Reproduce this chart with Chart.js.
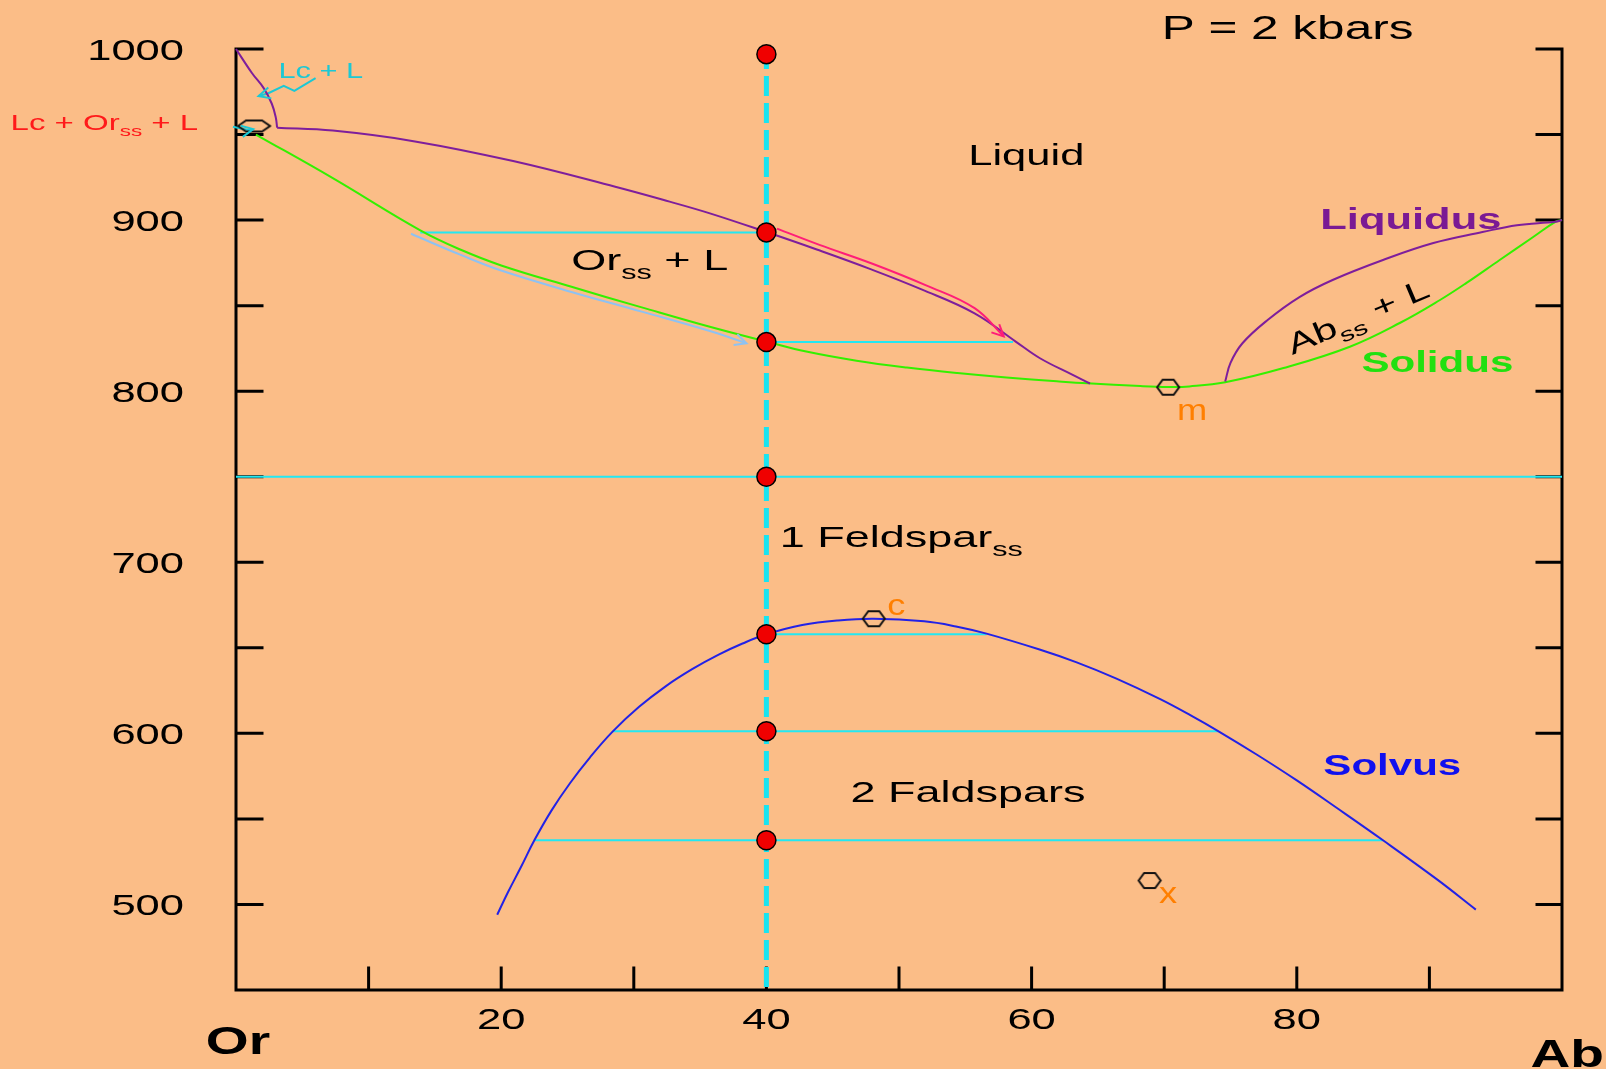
<!DOCTYPE html>
<html>
<head>
<meta charset="utf-8">
<script src="https://cdn.jsdelivr.net/npm/chart.js@4.4.1/dist/chart.umd.min.js"></script>
<style>
  html, body { margin: 0; padding: 0; background: #FBBD87; }
  #wrap { width: 1606px; height: 1069px; }
</style>
</head>
<body>
<div id="wrap"><canvas id="diagrama" width="1606" height="1069"></canvas></div>
<script>

// eixos
const ticksX = [10, 20, 30, 40, 50, 60, 70, 80, 90];
const rotulosX = [20, 40, 60, 80];
const ticksY = [1000, 950, 900, 850, 800, 750, 700, 650, 600, 550, 500];
const rotulosY = [1000, 900, 800, 700, 600, 500];

// curvas
const liquidusLc = [[0, 1000], [1.2, 986], [2.1, 977], [2.7, 968], [3.0, 960], [3.1, 954]];
const liquidusOr = [[3.1, 954], [7.3, 952.3], [13.5, 946], [20.9, 934.5], [28.6, 919.5], [32.7, 910.8], [35.8, 903.8], [40, 893],
  [43.8, 882.8], [47.8, 871.5], [51.7, 859.5], [55.7, 845.5], [58.8, 829], [60.6, 819.4], [63.1, 809.5], [64.4, 804.5]];
const liquidusAb = [[74.6, 805.6], [75.0, 816.5], [75.9, 828], [77.8, 841.6], [80.2, 855], [82.7, 865], [86.5, 876.7],
  [90.3, 886.6], [94, 893], [96.6, 897], [99.5, 899], [100, 900]];
const solidus = [[1.5, 950], [7.3, 924.5], [13.9, 894], [17, 882.5], [20, 873.5], [25.3, 861], [30.6, 849], [35.8, 837.5],
  [40, 829], [43.1, 823], [46.8, 817.8], [50.6, 813.8], [54.4, 810.6], [58.1, 808], [61.9, 805.8], [64.2, 804.6],
  [68.2, 803], [70.3, 802.5], [71.9, 802.8], [74.6, 805.2], [79, 813.5], [84, 826], [87.8, 840], [90.8, 853.3],
  [92.8, 863.3], [95.3, 876.7], [97.8, 890], [99.5, 899], [100, 900]];
const solvus = [[19.7, 494], [20.5, 507], [21.5, 522], [22.5, 537.5], [23.8, 555], [25.2, 571], [26.7, 586], [28.4, 601],
  [30.4, 615.5], [32.4, 627.5], [34.4, 637.5], [36.4, 646], [38.2, 652.5], [40, 657.9], [42.7, 663.3], [45.4, 666],
  [48.1, 667], [51.9, 665.5], [54.3, 662.5], [56.6, 658.3], [60.6, 649], [63.4, 641.5], [66.4, 632], [69.7, 620],
  [72, 610.5], [74.1, 601.2], [77, 587.5], [80, 572.5], [83, 556.5], [86.5, 537.5], [90.6, 514.5], [93.5, 497]];

// setas
const setaRosa = [[40.8, 895], [44, 885.5], [48, 874.5], [52, 862], [55.7, 848.5], [57.9, 832]];
const setaAzul = [[13.2, 892], [17, 879.5], [20, 870.5], [25.3, 858], [30.6, 846.5], [35.8, 835], [38.5, 828]];
const setaLcL = [[6.0, 983], [4.4, 975.5], [3.6, 978.5], [2.4, 974], [1.7, 972.5]];
const setaLcOrL = [[-3.35, 958.5], [-1.73, 957.5], [-1.36, 953.8], [-0.23, 954.6], [0.9, 952.6], [1.3, 953.2]];

// linhas de amarração (isotermas)
const amarraT = [892.8, 828.7, 750, 657.9, 601.2, 537.5];
const amarraDe = [13.9, 40, 0, 40, 28.4, 22.5];
const amarraAte = [40, 58.6, 100, 56.6, 74.1, 86.5];

// composição global e pontos de resfriamento
const isopleta = 40;
const pontosT = [997, 892.8, 828.7, 750, 657.9, 601.2, 537.5];

// pontos especiais: m (mínimo), c (crítico), x
const pontoM = [70.3, 802.3];
const pontoC = [48.1, 667];
const pontoX = [68.9, 514];
const pontoPeritetico = [1.36, 955];

const FONTE = '"Liberation Sans", Arial, sans-serif';

function pts(arr) { return arr.map(p => ({ x: p[0], y: p[1] })); }

function linha(dados, cor, larg, extra) {
  return Object.assign({
    type: 'line', data: pts(dados), borderColor: cor, borderWidth: larg,
    pointRadius: 0, fill: false, tension: 0, clip: false, order: 2
  }, extra || {});
}

function hexagono(w, h) {
  const c = document.createElement('canvas');
  c.width = w + 4; c.height = h + 4;
  const g = c.getContext('2d');
  const cx = c.width / 2, cy = c.height / 2;
  g.strokeStyle = '#111'; g.lineWidth = 2;
  g.beginPath();
  g.moveTo(cx - w / 2, cy);
  g.lineTo(cx - w / 4, cy - h / 2);
  g.lineTo(cx + w / 4, cy - h / 2);
  g.lineTo(cx + w / 2, cy);
  g.lineTo(cx + w / 4, cy + h / 2);
  g.lineTo(cx - w / 4, cy + h / 2);
  g.closePath();
  g.stroke();
  return c;
}

// montagem dos datasets
let datasets = [];

datasets.push({
  type: 'scatter', data: pontosT.map(t => ({ x: isopleta, y: t })),
  pointRadius: 9.5, backgroundColor: '#F00000', borderColor: '#000', borderWidth: 1.5, clip: false, order: 0
});
datasets.push({
  type: 'scatter', data: pts([pontoM, pontoC, pontoX]),
  pointStyle: hexagono(22, 15), pointRadius: 10, clip: false, order: 1
});
datasets.push({
  type: 'scatter', data: pts([pontoPeritetico]),
  pointStyle: hexagono(32, 11), pointRadius: 10, clip: false, order: 1
});

const suave = { tension: 0.4 };
datasets.push(linha(liquidusLc, '#7E1E9C', 2, suave));
datasets.push(linha(liquidusOr, '#7E1E9C', 2, suave));
datasets.push(linha(liquidusAb, '#7E1E9C', 2, suave));
datasets.push(linha(solidus, '#33F000', 2, suave));
datasets.push(linha(solvus, '#2222E6', 2, suave));
datasets.push(linha(setaAzul, '#8EC2F2', 2, { seta: '#8EC2F2', tension: 0.4 }));
datasets.push(linha(setaRosa, '#FF1E78', 2, { seta: '#FF1E78', order: 1, tension: 0.4 }));
datasets.push(linha(setaLcL, '#1CC8D4', 2, { seta: '#1CC8D4' }));
datasets.push(linha(setaLcOrL, '#1CC8D4', 2, { seta: '#1CC8D4' }));

datasets.push(linha([[isopleta, 1000], [isopleta, 450]], '#18E4F0', 5, { borderDash: [20, 7], order: 3 }));

amarraT.forEach((t, i) => {
  datasets.push(linha([[amarraDe[i], t], [amarraAte[i], t]], '#22E8F2', 2, { order: 4 }));
});

// textos (segmentos: [texto, subscrito?])
const textos = [
  { seg: [['P = 2 kbars']], x: 79.3, y: 1012.5, size: 33, sx: 1.5 },
  { seg: [['Liquid']], x: 59.6, y: 938.6, size: 30 },
  { seg: [['Or'], ['ss', 1], [' + L']], x: 31.2, y: 877.3, size: 30, sx: 1.5 },
  { seg: [['1 Feldspar'], ['ss', 1]], x: 41.0, y: 715.4, size: 30, sx: 1.5, align: 'left' },
  { seg: [['2 Faldspars']], x: 55.2, y: 566.3, size: 30, sx: 1.5 },
  { seg: [['Ab'], ['ss', 1], [' + L']], x: 84.6, y: 844, size: 29, rot: -23 },
  { seg: [['Liquidus']], x: 88.6, y: 901.2, size: 30, bold: true, cor: '#7A1A94' },
  { seg: [['Solidus']], x: 90.6, y: 817.6, size: 29, bold: true, cor: '#22E010' },
  { seg: [['Solvus']], x: 87.2, y: 581.5, size: 29, bold: true, cor: '#1010EE' },
  { seg: [['m']], x: 72.1, y: 789, size: 29, cor: '#FF7F00', sx: 1.25 },
  { seg: [['c']], x: 49.8, y: 675, size: 29, cor: '#FF7F00', sx: 1.25 },
  { seg: [['x']], x: 70.3, y: 507, size: 29, cor: '#FF7F00', sx: 1.25 },
  { seg: [['Lc + L']], x: 6.4, y: 987.7, size: 22, cor: '#1CC8D4', sx: 1.4 },
  { seg: [['Lc + Or'], ['ss', 1], [' + L']], x: -17.0, y: 957.5, size: 22, cor: '#FF1A1A', sx: 1.5, align: 'left' },
  { seg: [['Or']], x: 0.15, y: 420.5, size: 38, bold: true, sx: 1.45 },
  { seg: [['Ab']], x: 100.4, y: 413, size: 38, bold: true, sx: 1.45 }
];

function escreve(g, t, px, py) {
  const size = t.size, sx = t.sx || 1.45;
  const fonte = s => (t.bold ? 'bold ' : '') + s + 'px ' + FONTE;
  let larg = 0;
  t.seg.forEach(s => { g.font = fonte(s[1] ? size * 0.68 : size); larg += g.measureText(s[0]).width; });
  g.save();
  g.translate(px, py);
  if (t.rot) g.rotate(t.rot * Math.PI / 180);
  g.scale(sx, 1);
  g.fillStyle = t.cor || '#000';
  g.textBaseline = 'alphabetic';
  let x = t.align === 'left' ? 0 : -larg / 2;
  const base = size * 0.36;
  t.seg.forEach(s => {
    g.font = fonte(s[1] ? size * 0.68 : size);
    g.fillText(s[0], x, base + (s[1] ? size * 0.3 : 0));
    x += g.measureText(s[0]).width;
  });
  g.restore();
}

function pontaSeta(g, a, b, cor) {
  const ang = Math.atan2(b.y - a.y, b.x - a.x), L = 13;
  g.save();
  g.strokeStyle = cor; g.lineWidth = 2;
  g.beginPath();
  g.moveTo(b.x - L * Math.cos(ang - 0.45), b.y - L * Math.sin(ang - 0.45));
  g.lineTo(b.x, b.y);
  g.lineTo(b.x - L * Math.cos(ang + 0.45), b.y - L * Math.sin(ang + 0.45));
  g.stroke();
  g.restore();
}

const moldura = {
  id: 'moldura',
  beforeDraw(chart) {
    const g = chart.ctx;
    g.save();
    g.fillStyle = '#FBBD87';
    g.fillRect(0, 0, chart.width, chart.height);
    g.restore();
  },
  beforeDatasetsDraw(chart) {
    const g = chart.ctx, sx = chart.scales.x, sy = chart.scales.y;
    const x0 = sx.getPixelForValue(0), x1 = sx.getPixelForValue(100);
    const yTop = sy.getPixelForValue(1000), yBot = sy.getPixelForValue(450);
    g.save();
    g.strokeStyle = '#000'; g.lineWidth = 3; g.lineCap = 'square';
    g.beginPath();
    g.moveTo(x0, yTop); g.lineTo(x0, yBot); g.lineTo(x1, yBot); g.lineTo(x1, yTop);
    ticksY.forEach(v => {
      const y = sy.getPixelForValue(v);
      g.moveTo(x0, y); g.lineTo(x0 + 26, y);
      g.moveTo(x1, y); g.lineTo(x1 - 25, y);
    });
    ticksX.forEach(v => {
      const x = sx.getPixelForValue(v);
      g.moveTo(x, yBot); g.lineTo(x, yBot - 22);
    });
    g.stroke();
    g.restore();
  },
  afterDatasetsDraw(chart) {
    const g = chart.ctx, sx = chart.scales.x, sy = chart.scales.y;
    // pontas das setas
    chart.data.datasets.forEach((ds, i) => {
      if (!ds.seta) return;
      const el = chart.getDatasetMeta(i).data;
      pontaSeta(g, el[el.length - 2], el[el.length - 1], ds.seta);
    });
    // rótulos dos eixos
    const x0 = sx.getPixelForValue(0), yBot = sy.getPixelForValue(450);
    rotulosY.forEach(v => {
      const t = { seg: [[String(v)]], size: 30, sx: 1.45 };
      g.font = '30px ' + FONTE;
      const w = g.measureText(String(v)).width * 1.45;
      escreve(g, t, x0 - 52 - w / 2, sy.getPixelForValue(v));
    });
    rotulosX.forEach(v => {
      escreve(g, { seg: [[String(v)]], size: 30, sx: 1.45 }, sx.getPixelForValue(v), yBot + 28);
    });
    textos.forEach(t => escreve(g, t, sx.getPixelForValue(t.x), sy.getPixelForValue(t.y)));
  }
};

new Chart(document.getElementById('diagrama'), {
  type: 'scatter',
  data: { datasets: datasets },
  options: {
    responsive: false,
    animation: false,
    layout: { padding: { left: 236, right: 44, top: 49, bottom: 79 } },
    plugins: { legend: { display: false }, tooltip: { enabled: false } },
    scales: {
      x: { type: 'linear', min: 0, max: 100, display: false },
      y: { type: 'linear', min: 450, max: 1000, display: false }
    }
  },
  plugins: [moldura]
});
</script>
</body>
</html>
